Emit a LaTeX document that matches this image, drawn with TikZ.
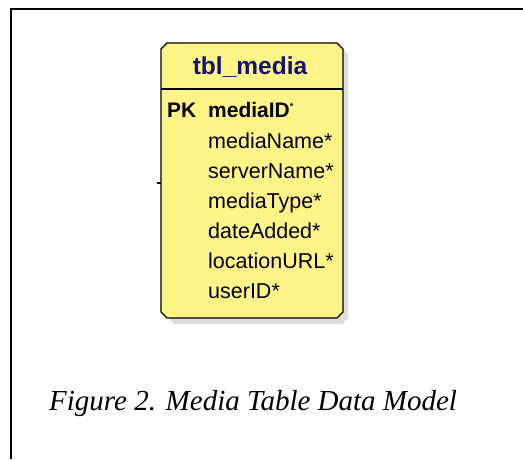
\documentclass[tikz,border=0pt]{standalone}
\usepackage{fontspec}
\setmainfont{Liberation Serif}
\setsansfont{Liberation Sans}
\definecolor{tabyellow}{RGB}{255,244,136}
\definecolor{titlenavy}{RGB}{20,20,110}
\definecolor{shadowgray}{RGB}{200,200,200}
\begin{document}
\begin{tikzpicture}[x=1pt,y=-1pt,
  field/.style={anchor=base west,inner sep=0pt,font=\sffamily\fontsize{21.5}{22}\selectfont},
  pkfield/.style={field,font=\sffamily\bfseries\fontsize{21}{22}\selectfont}]
\useasboundingbox (0,0) rectangle (523,459);
% frame
\draw[line width=2pt] (11,459) -- (11,8.5) -- (523,8.5);
% shadow
\fill[shadowgray,opacity=0.6] (170,49) -- (343,49) -- (348,54) -- (348,318) -- (342,324) -- (174,324) -- (168,318) -- cycle;
% table body
\path[draw=black,line width=1.2pt,fill=tabyellow]
  (167,43) -- (337,43) -- (343,49) -- (343,312) -- (337,318) -- (167,318) -- (161,312) -- (161,49) -- cycle;
\coordinate (hl) at (161,89);
\coordinate (hr) at (343,89);
\draw[line width=1.1pt] (hl) -- (hr);
% stub
\coordinate (stubA) at (157,183);
\coordinate (stubB) at (161,183);
\draw[line width=1.2pt] (stubA) -- (stubB);
% title
\node[font=\sffamily\bfseries\fontsize{24.5}{25}\selectfont,text=titlenavy,inner sep=0pt] (title) at (250,67) {tbl\_media};
% fields
\node[pkfield] (pk) at (167,117) {PK};
\node[pkfield] (f1) at (208,117) {mediaID\textsuperscript{\fontsize{9}{9}\selectfont*}};
\node[field] (f2) at (208,148) {mediaName*};
\node[field] (f3) at (208,178) {serverName*};
\node[field] (f4) at (208,208) {mediaType*};
\node[field] (f5) at (208,238) {dateAdded*};
\node[field] (f6) at (208,268) {locationURL*};
\node[field] (f7) at (208,298) {userID*};
% caption
\node[anchor=base west,inner sep=0pt,font=\itshape\fontsize{29}{31}\selectfont] (cap) at (49,410) {Figure 2. Media Table Data Model};
\end{tikzpicture}
\end{document}
